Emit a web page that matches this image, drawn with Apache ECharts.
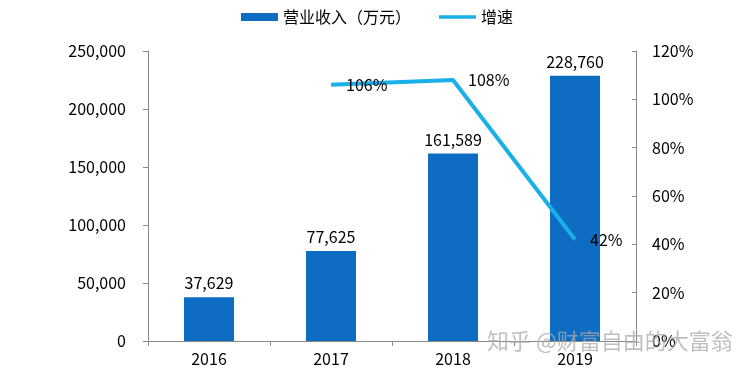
<!DOCTYPE html>
<html>
<head>
<meta charset="utf-8">
<script src="https://cdn.jsdelivr.net/npm/echarts@6/dist/echarts.min.js"></script>
<style>
  html, body { margin: 0; padding: 0; background: #fff; }
  #main { width: 756px; height: 377px; }
</style>
</head>
<body>
<div id="main"></div>
<script>
// 数据
var years = ['2016', '2017', '2018', '2019'];
var revenue = [37629, 77625, 161589, 228760];
var growth = [null, 106, 108, 42];

var font = '"Noto Sans CJK SC", "Noto Sans", sans-serif';
var chart = echarts.init(document.getElementById('main'));

function fmt(v) {
  return String(v).replace(/\B(?=(\d{3})+(?!\d))/g, ',');
}

var option = {
  animation: false,
  textStyle: { fontFamily: font },
  legend: {
    top: 4,
    left: 236,
    itemGap: 28,
    itemWidth: 37,
    itemHeight: 8,
    textStyle: { fontSize: 16, color: '#000', fontFamily: font },
    data: [
      { name: '营业收入（万元）', icon: 'rect' },
      { name: '增速', icon: 'path://M0,0 L10,0 L10,1 L0,1 Z' }
    ]
  },
  grid: { left: 148, right: 120, top: 51, bottom: 36 },
  xAxis: {
    type: 'category',
    data: years,
    axisLine: { lineStyle: { color: '#898989', width: 1 } },
    axisTick: { show: true, length: 5, lineStyle: { color: '#898989' } },
    axisLabel: { fontSize: 16, color: '#000', margin: 10 }
  },
  yAxis: [{
    type: 'value',
    min: 0,
    max: 250000,
    interval: 50000,
    axisLine: { show: true, lineStyle: { color: '#898989' } },
    axisTick: { show: true, length: 5, lineStyle: { color: '#898989' } },
    splitLine: { show: false },
    axisLabel: { fontSize: 16, color: '#000', margin: 22, formatter: fmt }
  }, {
    type: 'value',
    min: 0,
    max: 120,
    interval: 20,
    position: 'right',
    axisLine: { show: true, lineStyle: { color: '#898989' } },
    axisTick: { show: true, inside: true, length: 4, lineStyle: { color: '#898989' } },
    splitLine: { show: false },
    axisLabel: { fontSize: 16, color: '#000', margin: 16, formatter: '{value}%' }
  }],
  series: [{
    name: '营业收入（万元）',
    type: 'bar',
    data: revenue,
    barWidth: '41%',
    itemStyle: { color: '#0E6DC3' },
    label: {
      show: true,
      position: 'top',
      distance: 6,
      fontSize: 16,
      color: '#000',
      formatter: function (p) { return fmt(p.value); }
    }
  }, {
    name: '增速',
    type: 'line',
    yAxisIndex: 1,
    data: growth,
    symbol: 'circle',
    symbolSize: 0.1,
    showSymbol: true,
    connectNulls: false,
    z: 3,
    lineStyle: { color: '#1AAFE6', width: 4 },
    itemStyle: { color: '#1AAFE6' },
    label: {
      show: true,
      position: 'right',
      distance: 15,
      fontSize: 16,
      color: '#000',
      formatter: '{c}%'
    }
  }],
  graphic: [{
    type: 'text',
    left: 487,
    top: 330,
    z: 100,
    style: {
      text: '知乎 @财富自由的大富翁',
      fontSize: 22,
      fontFamily: font,
      fill: 'rgba(170,170,170,0.75)'
    }
  }]
};

chart.setOption(option);
</script>
</body>
</html>
